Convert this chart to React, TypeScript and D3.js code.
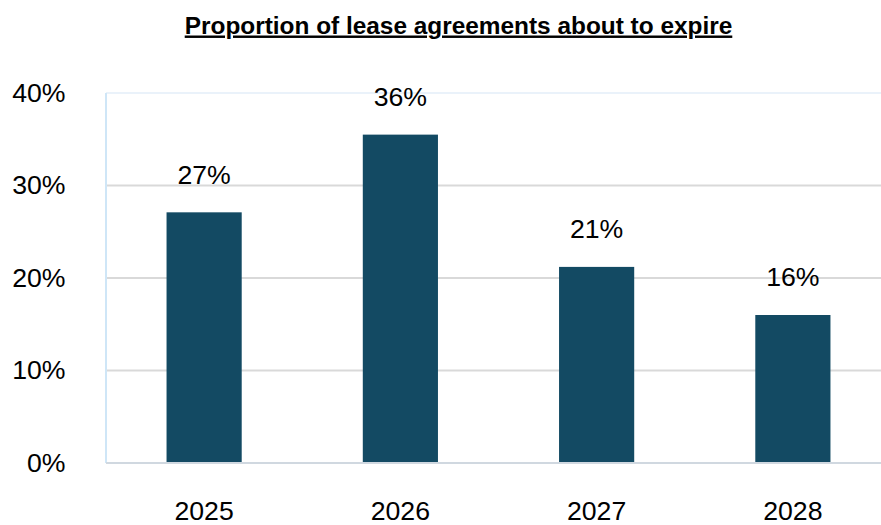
import React from "react";
import * as d3 from "d3";

const categories = ["2025", "2026", "2027", "2028"];
const values = [27.1, 35.5, 21.2, 16.0];
const labels = ["27%", "36%", "21%", "16%"];
const yTicks = [0, 10, 20, 30, 40];

const W = 881;
const H = 525;
const left = 106;
const right = 891;
const top = 93;
const bottom = 463;

export default function App() {
  const x = d3.scaleBand<string>().domain(categories).range([left, right]).paddingInner(0.617).paddingOuter(0.3085);
  const y = d3.scaleLinear().domain([0, 40]).range([bottom, top]);
  const font = "Arial, 'Liberation Sans', sans-serif";
  const fs = 26.67;
  return (
    <svg width={W} height={H} style={{ position: "absolute", left: 0, top: 0, background: "#fff" }}>
      <text x={458.5} y={33.5} textAnchor="middle" fontFamily={font} fontWeight="bold" fontSize={24.4} textDecoration="underline" fill="#000">
        Proportion of lease agreements about to expire
      </text>
      {yTicks.map((t) => (
        <g key={t}>
          {t > 0 && (
            <line x1={left} x2={W} y1={y(t)} y2={y(t)} stroke={t === 40 ? "#eaf2fa" : "#d9d9d9"} strokeWidth={2} />
          )}
          <text x={65.5} y={y(t) + 8.5} textAnchor="end" fontFamily={font} fontSize={fs} fill="#000">
            {t}%
          </text>
        </g>
      ))}
      <line x1={left} x2={left} y1={top} y2={bottom} stroke="#cfe6f7" strokeWidth={2} />
      {categories.map((c, i) => (
        <g key={c}>
          <rect x={x(c)} y={y(values[i])} width={x.bandwidth()} height={bottom - y(values[i])} fill="#134a63" />
          <text x={(x(c) as number) + x.bandwidth() / 2} y={y(values[i]) - 28.7} textAnchor="middle" fontFamily={font} fontSize={fs} fill="#000">
            {labels[i]}
          </text>
          <text x={(x(c) as number) + x.bandwidth() / 2} y={520} textAnchor="middle" fontFamily={font} fontSize={fs} fill="#000">
            {c}
          </text>
        </g>
      ))}
      <line x1={left} x2={W} y1={bottom} y2={bottom} stroke="#d0d8e0" strokeWidth={2} />
    </svg>
  );
}
